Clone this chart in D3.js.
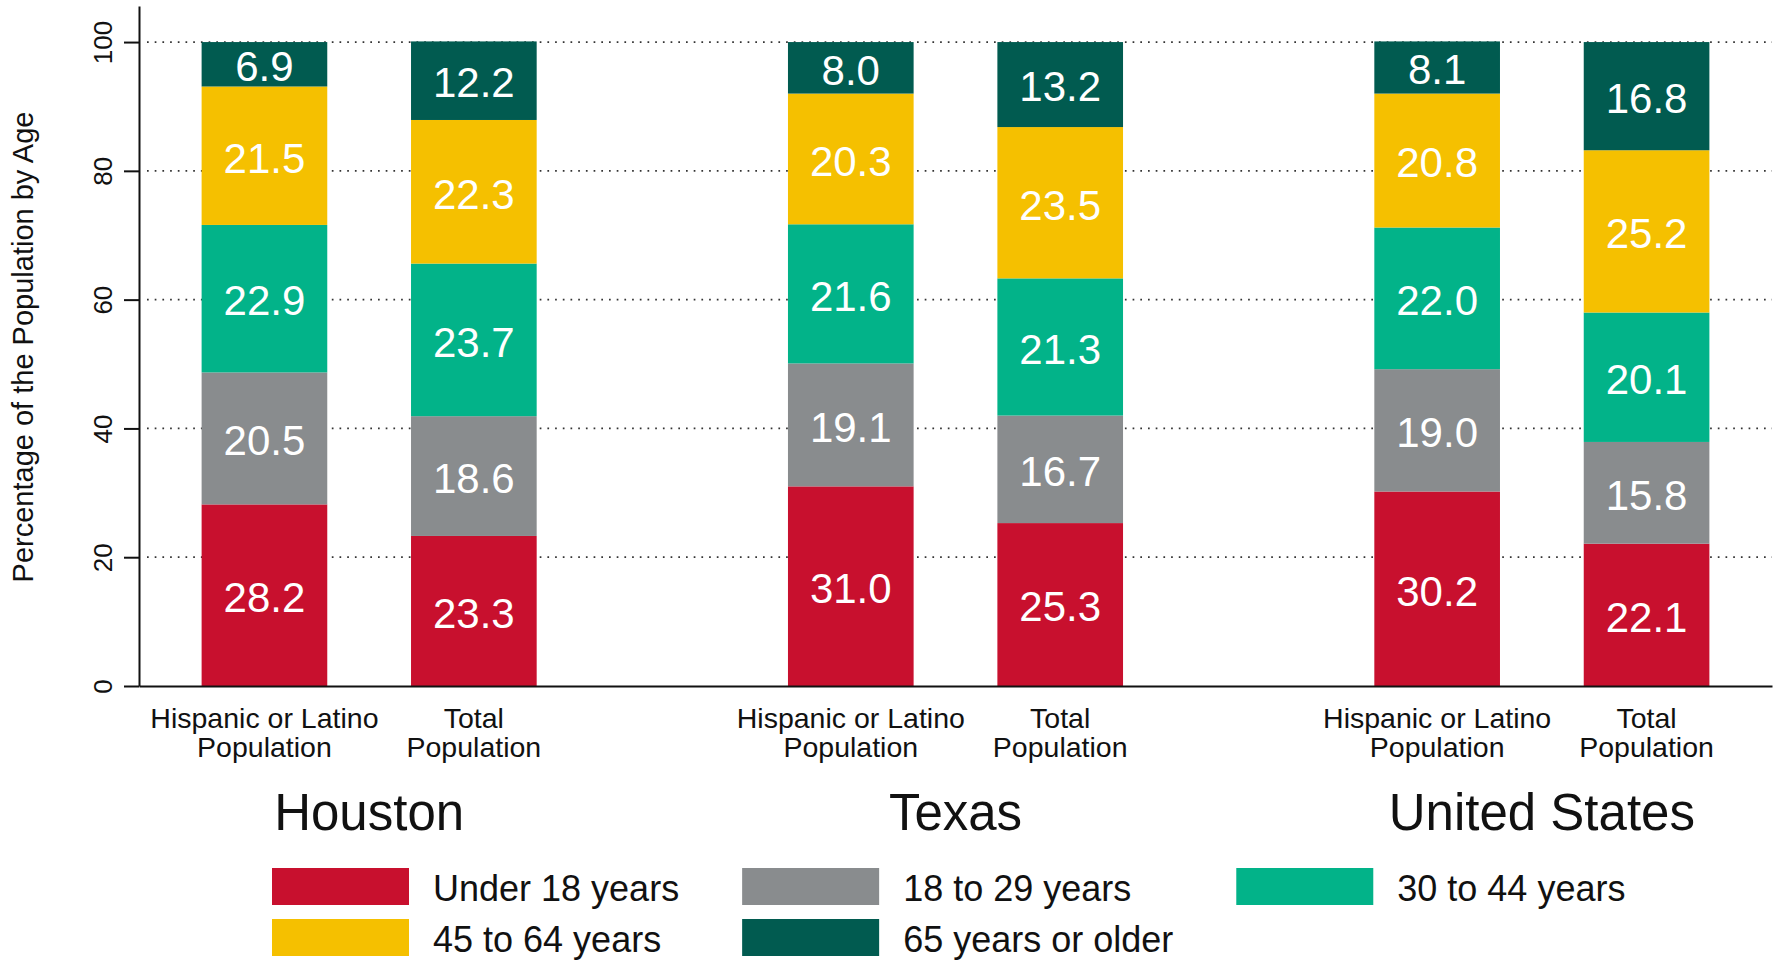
<!DOCTYPE html>
<html>
<head>
<meta charset="utf-8">
<script src="https://cdn.jsdelivr.net/npm/d3@7"></script>
<style>
    html, body { margin: 0; padding: 0; background: #fff; }
    svg { display: block; font-family: "Liberation Sans", Arial, sans-serif; }
</style>
</head>
<body>
<svg id="chart" width="1777" height="960"></svg>
<script>
// Chart values
const regions     = ["Houston", "Texas", "United States"];
const populations = [["Hispanic or Latino", "Population"], ["Total", "Population"]];
const ageGroups   = ["Under 18 years", "18 to 29 years", "30 to 44 years", "45 to 64 years", "65 years or older"];
const ageColors   = ["#c8102e", "#898c8e", "#02b389", "#f5c000", "#015b50"];

// One entry per bar: Houston (Hispanic, Total), Texas (...), United States (...)
const under18   = [28.2, 23.3, 31.0, 25.3, 30.2, 22.1];
const age18to29 = [20.5, 18.6, 19.1, 16.7, 19.0, 15.8];
const age30to44 = [22.9, 23.7, 21.6, 21.3, 22.0, 20.1];
const age45to64 = [21.5, 22.3, 20.3, 23.5, 20.8, 25.2];
const age65plus = [6.9, 12.2, 8.0, 13.2, 8.1, 16.8];

const yTicks = [0, 20, 40, 60, 80, 100];

/**
 * Stacked percentage bars grouped by region.
 */
class AgeChart
{
    constructor(svg)
    {
        this.svg = svg;

        this.x0 = d3.scaleBand()
            .domain(regions)
            .range([139, 1772])
            .paddingInner(0.3)
            .paddingOuter(0.0425);

        this.x1 = d3.scaleBand()
            .domain(populations.map(p => p[0]))
            .range([0, this.x0.bandwidth()])
            .paddingInner(0.4)
            .paddingOuter(0.18);

        this.y = d3.scaleLinear()
            .domain([0, 105.6])
            .range([686, 6]);

        this.color = d3.scaleOrdinal()
            .domain(ageGroups)
            .range(ageColors);
    }

    /**
     * Build one row per bar for d3.stack.
     */
    rows()
    {
        let series = [under18, age18to29, age30to44, age45to64, age65plus];
        let rows   = [];

        regions.forEach((region, r) => {
            populations.forEach((pop, p) => {
                let i   = r * populations.length + p;
                let row = {region: region, population: pop[0]};
                ageGroups.forEach((age, a) => { row[age] = series[a][i]; });
                rows.push(row);
            });
        });

        return rows;
    }

    barX(d)
    {
        return this.x0(d.region) + this.x1(d.population);
    }

    draw()
    {
        this.drawGrid();
        this.drawBars();
        this.drawAxes();
        this.drawCategoryLabels();
        this.drawLegend();
    }

    drawGrid()
    {
        let [x0, x1] = this.x0.range();

        this.svg.append("g")
            .attr("class", "grid")
            .selectAll("line")
            .data(yTicks.filter(t => t > 0))
            .join("line")
            .attr("x1", x0 + 8)
            .attr("x2", x1)
            .attr("y1", d => this.y(d))
            .attr("y2", d => this.y(d))
            .attr("stroke", "#333")
            .attr("stroke-width", 1.7)
            .attr("stroke-dasharray", "1.7 6");
    }

    drawBars()
    {
        let self    = this;
        let stacked = d3.stack().keys(ageGroups)(this.rows());

        let layers = this.svg.append("g")
            .attr("class", "bars")
            .selectAll("g.layer")
            .data(stacked)
            .join("g")
            .attr("class", "layer")
            .attr("fill", d => this.color(d.key));

        layers.selectAll("rect")
            .data(d => d)
            .join("rect")
            .attr("x", d => self.barX(d.data))
            .attr("width", this.x1.bandwidth())
            .attr("y", d => this.y(d[1]))
            .attr("height", d => this.y(d[0]) - this.y(d[1]));

        // Value labels, centred in each segment
        layers.selectAll("text")
            .data(d => d.map(v => Object.assign(v, {key: d.key})))
            .join("text")
            .attr("x", d => self.barX(d.data) + this.x1.bandwidth() / 2)
            .attr("y", d => (this.y(d[0]) + this.y(d[1])) / 2)
            .attr("dy", "0.4em")
            .attr("text-anchor", "middle")
            .attr("fill", "#fff")
            .style("font-size", "42px")
            .text(d => d3.format(".1f")(d.data[d.key]));
    }

    drawAxes()
    {
        let yAxis = this.svg.append("g")
            .attr("class", "y-axis")
            .attr("transform", `translate(${this.x0.range()[0]},0)`)
            .call(d3.axisLeft(this.y).tickValues(yTicks).tickSize(15).tickSizeOuter(0));

        yAxis.select(".domain").attr("stroke", "#111").attr("stroke-width", 2);
        yAxis.selectAll(".tick line").attr("stroke", "#111").attr("stroke-width", 2);
        yAxis.selectAll(".tick text")
            .attr("x", null)
            .attr("dy", null)
            .attr("transform", "translate(-27,0) rotate(-90)")
            .attr("text-anchor", "middle")
            .attr("fill", "#111")
            .style("font-size", "26px")
            .style("font-family", "Liberation Sans, Arial, sans-serif");

        let xAxis = this.svg.append("g")
            .attr("class", "x-axis")
            .attr("transform", `translate(0,${this.y(0)})`)
            .call(d3.axisBottom(this.x0).tickSize(0).tickFormat("").tickSizeOuter(0));

        xAxis.select(".domain").attr("stroke", "#111").attr("stroke-width", 2);

        // Axis title
        let [yBottom, yTop] = this.y.range();
        this.svg.append("text")
            .attr("transform", `translate(33,${(yBottom + yTop) / 2 + 1}) rotate(-90)`)
            .attr("text-anchor", "middle")
            .attr("fill", "#111")
            .style("font-size", "29px")
            .text("Percentage of the Population by Age");
    }

    drawCategoryLabels()
    {
        let self  = this;
        let base  = this.y(0);
        let group = this.svg.append("g").attr("class", "categories");

        regions.forEach(region => {
            populations.forEach(pop => {
                let cx = self.x0(region) + self.x1(pop[0]) + self.x1.bandwidth() / 2;
                let text = group.append("text")
                    .attr("x", cx)
                    .attr("y", base + 42)
                    .attr("text-anchor", "middle")
                    .attr("fill", "#111")
                    .style("font-size", "28.5px");

                pop.forEach((line, i) => {
                    text.append("tspan")
                        .attr("x", cx)
                        .attr("dy", i === 0 ? 0 : 29)
                        .text(line);
                });
            });

            group.append("text")
                .attr("x", self.x0(region) + self.x0.bandwidth() / 2)
                .attr("y", base + 144)
                .attr("text-anchor", "middle")
                .attr("fill", "#111")
                .style("font-size", "51px")
                .text(region);
        });
    }

    drawLegend()
    {
        let columns = 3;
        let swatchW = 137;
        let swatchH = 37;
        let rowStep = 51;
        let textGap = 24;
        let colGap  = 63;
        let left    = 272;
        let top     = 868;

        let legend = this.svg.append("g").attr("class", "legend");

        // Measure the widest label of each column first
        let widths = ageGroups.map(age => {
            let t = legend.append("text").style("font-size", "36px").text(age);
            let w = t.node().getComputedTextLength();
            t.remove();
            return w;
        });

        let colX = [left];
        for (let c = 1; c < columns; c++) {
            let widest = d3.max(ageGroups.map((a, i) => i % columns === c - 1 ? widths[i] : 0));
            colX.push(colX[c - 1] + swatchW + textGap + widest + colGap);
        }

        let items = legend.selectAll("g.item")
            .data(ageGroups)
            .join("g")
            .attr("class", "item")
            .attr("transform", (d, i) => `translate(${colX[i % columns]},${top + Math.floor(i / columns) * rowStep})`);

        items.append("rect")
            .attr("width", swatchW)
            .attr("height", swatchH)
            .attr("fill", d => this.color(d));

        items.append("text")
            .attr("x", swatchW + textGap)
            .attr("y", 33)
            .attr("fill", "#111")
            .style("font-size", "36px")
            .text(d => d);
    }
}

let chart = new AgeChart(d3.select("#chart"));
chart.draw();
</script>
</body>
</html>
